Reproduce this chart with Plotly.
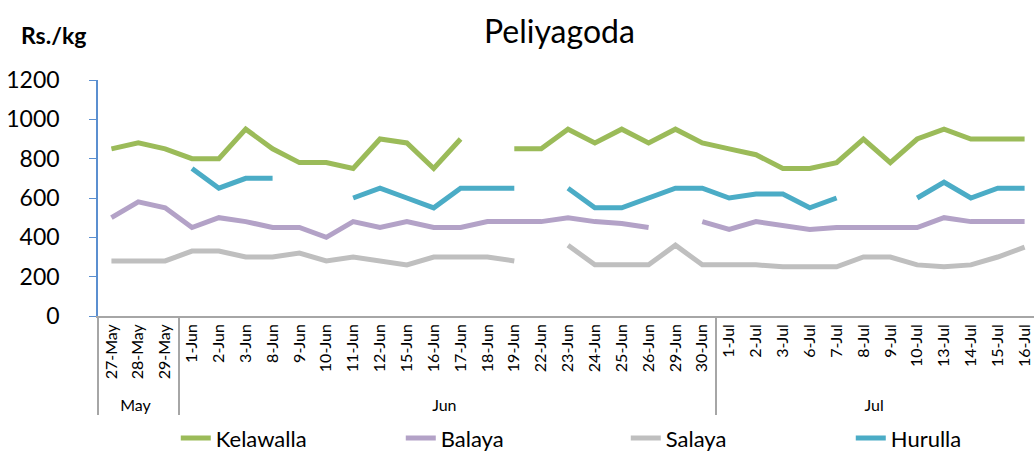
import plotly.graph_objects as go

months = ["May"] * 3 + ["Jun"] * 20 + ["Jul"] * 12
dates = ["27-May", "28-May", "29-May",
         "1-Jun", "2-Jun", "3-Jun", "8-Jun", "9-Jun", "10-Jun", "11-Jun", "12-Jun",
         "15-Jun", "16-Jun", "17-Jun", "18-Jun", "19-Jun", "22-Jun", "23-Jun", "24-Jun",
         "25-Jun", "26-Jun", "29-Jun", "30-Jun",
         "1-Jul", "2-Jul", "3-Jul", "6-Jul", "7-Jul", "8-Jul", "9-Jul", "10-Jul",
         "13-Jul", "14-Jul", "15-Jul", "16-Jul"]

kelawalla = [850, 880, 850,
             800, 800, 950, 850, 780, 780, 750, 900, 880, 750, 900, None, 850, 850,
             950, 880, 950, 880, 950, 880,
             850, 820, 750, 750, 780, 900, 780, 900, 950, 900, 900, 900]
balaya = [500, 580, 550,
          450, 500, 480, 450, 450, 400, 480, 450, 480, 450, 450, 480, 480, 480,
          500, 480, 470, 450, None, 480,
          440, 480, 460, 440, 450, 450, 450, 450, 500, 480, 480, 480]
salaya = [280, 280, 280,
          330, 330, 300, 300, 320, 280, 300, 280, 260, 300, 300, 300, 280, None,
          360, 260, 260, 260, 360, 260,
          260, 260, 250, 250, 250, 300, 300, 260, 250, 260, 300, 350]
hurulla = [None, None, None,
           750, 650, 700, 700, None, None, 600, 650, 600, 550, 650, 650, 650, None,
           650, 550, 550, 600, 650, 650,
           600, 620, 620, 550, 600, None, None, 600, 680, 600, 650, 650]

series = [("Kelawalla", kelawalla, "#9BBB59"),
          ("Balaya", balaya, "#B3A2C7"),
          ("Salaya", salaya, "#BFBFBF"),
          ("Hurulla", hurulla, "#4BACC6")]

FONT = "Lato"

fig = go.Figure()
for name, vals, color in series:
    fig.add_trace(go.Scatter(
        x=[months, dates], y=vals, name=name, mode="lines",
        line=dict(color=color, width=5), connectgaps=False,
    ))

fig.update_layout(
    width=1034, height=455,
    margin=dict(l=98, r=0, t=80, b=139),
    paper_bgcolor="white", plot_bgcolor="white",
    font=dict(family=FONT, color="black"),
    title=dict(text="Peliyagoda", x=0.541, xanchor="center", y=0.93, yanchor="middle",
               font=dict(size=32, family=FONT, color="black")),
    showlegend=True,
    legend=dict(orientation="h", xref="container", yref="container",
                x=0.170, xanchor="left", y=0.037, yanchor="middle",
                bgcolor="rgba(0,0,0,0)",
                font=dict(size=22, family=FONT), entrywidth=180, entrywidthmode="pixels"),
    annotations=[dict(text="<b>Rs./kg</b>", xref="paper", yref="paper", x=-0.084, y=1.19,
                      xanchor="left", yanchor="middle", showarrow=False,
                      font=dict(size=23, family=FONT))],
)

fig.update_yaxes(range=[0, 1200], dtick=200, showgrid=False, zeroline=False,
                 showline=True, linecolor="#5B8FD0", linewidth=1.5,
                 ticks="outside", ticklen=7, tickcolor="#5B8FD0", automargin=False,
                 tickfont=dict(size=23, family=FONT), ticklabelstandoff=25)
fig.update_xaxes(type="multicategory", range=[-0.5, 34.35], showgrid=False,
                 showline=True, linecolor="#A6A6A6", linewidth=1.5, automargin=False,
                 showdividers=True, dividercolor="#A6A6A6", dividerwidth=1.5,
                 tickangle=-90, tickfont=dict(size=16, family=FONT), ticks="")

fig.write_html("out.html", config={"displayModeBar": False},
               post_script="document.body.style.margin='0';document.body.style.overflow='hidden';")
